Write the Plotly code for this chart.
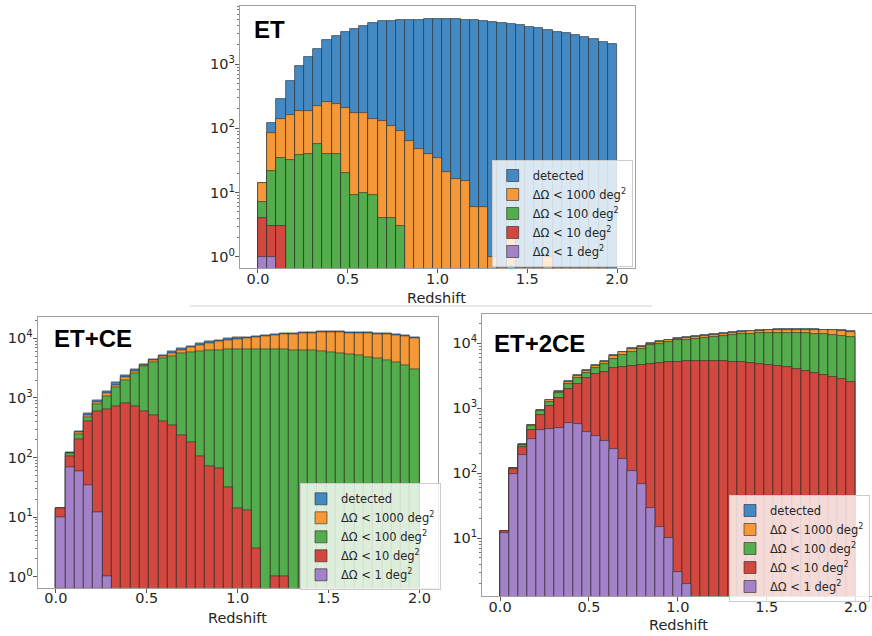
import plotly.graph_objects as go

# ---------------- data ----------------
# 39 redshift bins between 0 and 2
BIN_EDGES = [0.0000, 0.0513, 0.1026, 0.1538, 0.2051, 0.2564, 0.3077, 0.3590, 0.4103, 0.4615,
             0.5128, 0.5641, 0.6154, 0.6667, 0.7179, 0.7692, 0.8205, 0.8718, 0.9231, 0.9744,
             1.0256, 1.0769, 1.1282, 1.1795, 1.2308, 1.2821, 1.3333, 1.3846, 1.4359, 1.4872,
             1.5385, 1.5897, 1.6410, 1.6923, 1.7436, 1.7949, 1.8462, 1.8974, 1.9487, 2.0000]

SERIES = ["detected", "ΔΩ < 1000 deg<sup>2</sup>", "ΔΩ < 100 deg<sup>2</sup>",
          "ΔΩ < 10 deg<sup>2</sup>", "ΔΩ < 1 deg<sup>2</sup>"]
PANELS = ["ET", "ET+CE", "ET+2CE"]
X_TITLE = "Redshift"

# ET
et_detected = [14, 120, 283, 552, 934, 1276, 1720, 2350, 2770, 3160,
               3520, 3920, 4320, 4690, 4750, 4860, 4860, 4900, 4980, 5040,
               5100, 5050, 4900, 4780, 4650, 4520, 4380, 4200, 4000, 3800,
               3600, 3400, 3200, 3000, 2800, 2620, 2450, 2250, 2040]
et_1000 = [14, 85, 140, 161, 188, 188, 225, 257, 237, 210,
           171, 171, 140, 130, 109, 92, 64, 48, 40, 35,
           21, 16, 15, 6, 6, 1, 0, 2, 0, 0,
           0, 1, 0, 0, 0, 0, 0, 0, 0]
et_100 = [7, 22, 35, 32, 38, 40, 56, 40, 40, 20,
          9, 10, 9, 4, 4, 3, 0, 0, 0, 0,
          0, 0, 0, 0, 0, 0, 0, 0, 0, 0,
          0, 0, 0, 0, 0, 0, 0, 0, 0]
et_10 = [4, 3, 3, 0, 0, 0, 0, 0, 0, 0,
         0, 0, 0, 0, 0, 0, 0, 0, 0, 0,
         0, 0, 0, 0, 0, 0, 0, 0, 0, 0,
         0, 0, 0, 0, 0, 0, 0, 0, 0]
et_1 = [1, 1, 0, 0, 0, 0, 0, 0, 0, 0,
        0, 0, 0, 0, 0, 0, 0, 0, 0, 0,
        0, 0, 0, 0, 0, 0, 0, 0, 0, 0,
        0, 0, 0, 0, 0, 0, 0, 0, 0]

# ET+CE
ce_detected = [14, 122, 280, 560, 930, 1280, 1800, 2430, 3020, 3710,
               4440, 5250, 5970, 6790, 7500, 8200, 8800, 9400, 9900, 10300,
               10600, 11000, 11400, 11800, 12100, 12400, 12650, 12850, 13000, 13000,
               13000, 12900, 12750, 12550, 12350, 12050, 11650, 11150, 10500]
ce_1000 = [14, 119, 265, 520, 860, 1180, 1650, 2250, 2800, 3500,
           4250, 5000, 5650, 6400, 7100, 7700, 8300, 8900, 9400, 9800,
           10150, 10500, 10900, 11300, 11600, 11900, 12150, 12350, 12500, 12500,
           12500, 12400, 12250, 12050, 11850, 11550, 11200, 10700, 10100]
ce_100 = [14, 116, 245, 470, 790, 1080, 1500, 2000, 2590, 3340,
          4000, 4700, 5100, 5600, 5850, 6000, 6200, 6350, 6450, 6500,
          6500, 6500, 6500, 6500, 6450, 6400, 6300, 6200, 6050, 5900,
          5700, 5450, 5200, 4900, 4600, 4300, 3950, 3550, 3050]
ce_10 = [14, 104, 205, 400, 590, 650, 713, 811, 731, 603,
         517, 410, 342, 239, 177, 103, 70, 66, 32, 14,
         13, 3, 0, 1, 1, 0, 0, 0, 0, 0,
         0, 0, 0, 0, 0, 0, 0, 0, 0]
ce_1 = [10, 68, 58, 34, 12, 1, 0, 0, 0, 0,
        0, 0, 0, 0, 0, 0, 0, 0, 0, 0,
        0, 0, 0, 0, 0, 0, 0, 0, 0, 0,
        0, 0, 0, 0, 0, 0, 0, 0, 0]

# ET+2CE
ce2_detected = [13, 122, 280, 555, 950, 1350, 1850, 2600, 3250, 3890,
                4650, 5400, 6600, 7450, 8380, 9100, 10000, 10700, 11300, 11900,
                12300, 12800, 13300, 13800, 14300, 14800, 15200, 15600, 15900, 16150,
                16350, 16450, 16500, 16500, 16400, 16300, 16100, 15800, 15300]
ce2_1000 = [13, 121, 276, 545, 935, 1320, 1810, 2540, 3170, 3790,
            4520, 5250, 6400, 7230, 8120, 8820, 9700, 10450, 11050, 11650,
            12050, 12550, 13000, 13500, 14000, 14500, 14900, 15300, 15600, 15850,
            16050, 16150, 16200, 16200, 16100, 16000, 15800, 15500, 15000]
ce2_100 = [13, 120, 270, 530, 900, 1260, 1700, 2380, 2950, 3500,
           4150, 4800, 5800, 6550, 7350, 8100, 9300, 9900, 10500, 11100,
           11400, 11800, 12200, 12600, 13000, 13400, 13700, 14000, 14200, 14400,
           14500, 14450, 14350, 14200, 14000, 13800, 13500, 13100, 12700]
ce2_10 = [13, 115, 250, 460, 780, 1080, 1450, 1980, 2340, 2900,
          3340, 3660, 4120, 4380, 4530, 4650, 4810, 4930, 5100, 5150,
          5300, 5350, 5350, 5350, 5300, 5250, 5150, 5000, 4850, 4650,
          4450, 4250, 4000, 3800, 3550, 3300, 3050, 2800, 2550]
ce2_1 = [12, 98, 191, 333, 464, 481, 505, 588, 567, 438,
         380, 314, 234, 166, 109, 68, 29, 15, 10, 3,
         2, 0, 0, 0, 0, 0, 0, 0, 0, 0,
         0, 0, 0, 0, 0, 0, 0, 0, 0]

PANEL_DATA = [
    [et_detected, et_1000, et_100, et_10, et_1],
    [ce_detected, ce_1000, ce_100, ce_10, ce_1],
    [ce2_detected, ce2_1000, ce2_100, ce2_10, ce2_1],
]

X_TICKS = [0.0, 0.5, 1.0, 1.5, 2.0]
X_TICK_TEXT = ["0.0", "0.5", "1.0", "1.5", "2.0"]
Y_TICKS = [1, 10, 100, 1000, 10000]
Y_TICK_TEXT = ["10<sup>0</sup>", "10<sup>1</sup>", "10<sup>2</sup>", "10<sup>3</sup>", "10<sup>4</sup>"]
MINOR_Y = [m * d for d in (1, 10, 100, 1000, 10000) for m in (2, 3, 4, 5, 6, 7, 8, 9)]

# ---------------- style ----------------
COLORS = ["#438ac4", "#f49838", "#54ad4c", "#d3483e", "#a382c9"]
W, H = 872, 636
FONT = "DejaVu Sans"

FRAMES = [
    dict(px=(240, 635, 6, 268.3), xr=[-0.1, 2.1], yr=[-0.18, 3.905],
         title_xy=(252, 30), legend=dict(x=491.7 / W, y=1 - 160 / H, xanchor="left"),
         xlabel_xy=(437, 298)),
    dict(px=(37.7, 437.7, 317.3, 587.7), xr=[-0.1, 2.1], yr=[-0.185, 4.354],
         title_xy=(52, 338), legend=dict(x=300 / W, y=1 - 483.3 / H, xanchor="left"),
         xlabel_xy=(238, 618)),
    dict(px=(482.3, 872, 314, 596), xr=[-0.1, 2.092], yr=[0.112, 4.451],
         title_xy=(492, 343), legend=dict(x=870 / W, y=1 - 495 / H, xanchor="right"),
         xlabel_xy=(678, 625)),
]

centers = [(a + b) / 2 for a, b in zip(BIN_EDGES[:-1], BIN_EDGES[1:])]
widths = [b - a for a, b in zip(BIN_EDGES[:-1], BIN_EDGES[1:])]

fig = go.Figure()
layout = dict(width=W, height=H, margin=dict(l=0, r=0, t=0, b=0, autoexpand=False),
              paper_bgcolor="white", plot_bgcolor="white",
              barmode="overlay", bargap=0, font=dict(family=FONT, color="#262626"),
              annotations=[], shapes=[])

for p, (name, frame, data) in enumerate(zip(PANELS, FRAMES, PANEL_DATA)):
    sfx = "" if p == 0 else str(p + 1)
    leg = "legend" if p == 0 else "legend" + str(p + 1)
    for s, (label, vals) in enumerate(zip(SERIES, data)):
        fig.add_trace(go.Bar(
            x=centers, y=[v if v > 0 else None for v in vals], width=widths,
            name=label, xaxis="x" + sfx, yaxis="y" + sfx, legend=leg,
            marker=dict(color=COLORS[s], line=dict(color="rgba(40,40,40,0.75)", width=0.8)),
            hoverinfo="skip"))
    l, r, t, b = frame["px"]
    layout["xaxis" + sfx] = dict(
        domain=[l / W, min(r / W, 1.0)], range=frame["xr"], anchor="y" + sfx,
        automargin=False, ticklabelstandoff=-7,
        tickmode="array", tickvals=X_TICKS, ticktext=X_TICK_TEXT,
        ticks="outside", ticklen=4, tickcolor="#555", tickfont=dict(size=14.5),
        showline=True, mirror=True, linecolor="#a0a0a0", linewidth=1.2,
        showgrid=False, zeroline=False)
    layout["yaxis" + sfx] = dict(
        domain=[1 - b / H, 1 - t / H], range=frame["yr"], type="log", anchor="x" + sfx,
        automargin=False, ticklabelstandoff=-3,
        tickmode="array", tickvals=Y_TICKS, ticktext=Y_TICK_TEXT,
        ticks="outside", ticklen=4, tickcolor="#555", tickfont=dict(size=14.5),
        minor=dict(tickmode="array", tickvals=MINOR_Y, ticks="outside", ticklen=2,
                   tickcolor="#777", showgrid=False),
        showline=True, mirror=True, linecolor="#a0a0a0", linewidth=1.2,
        showgrid=False, zeroline=False)
    layout[leg] = dict(**frame["legend"], yanchor="top",
                       xref="paper", yref="paper",
                       bgcolor="rgba(255,255,255,0.8)", bordercolor="#cccccc", borderwidth=1,
                       font=dict(size=11.5, family=FONT, color="#262626"),
                       traceorder="normal", itemwidth=30)
    tx, ty = frame["title_xy"]
    layout["annotations"].append(dict(
        text="<b>" + name + "</b>", x=tx / W, y=1 - ty / H, xref="paper", yref="paper",
        xanchor="left", yanchor="middle", showarrow=False,
        font=dict(size=24, family="Liberation Sans", color="black")))
    ax_, ay_ = frame["xlabel_xy"]
    layout["annotations"].append(dict(
        text=X_TITLE, x=ax_ / W, y=1 - ay_ / H, xref="paper", yref="paper",
        xanchor="center", yanchor="middle", showarrow=False,
        font=dict(size=14.5, family=FONT, color="#262626")))

layout["shapes"].append(dict(type="line", xref="paper", yref="paper",
                             x0=190 / W, x1=652 / W, y0=1 - 306 / H, y1=1 - 306 / H,
                             line=dict(color="#e2e2e2", width=1.5)))

fig.update_layout(**layout)
fig.write_html("out.html", config={"displayModeBar": False},
               post_script="document.body.style.margin='0';document.body.style.overflow='hidden';")
